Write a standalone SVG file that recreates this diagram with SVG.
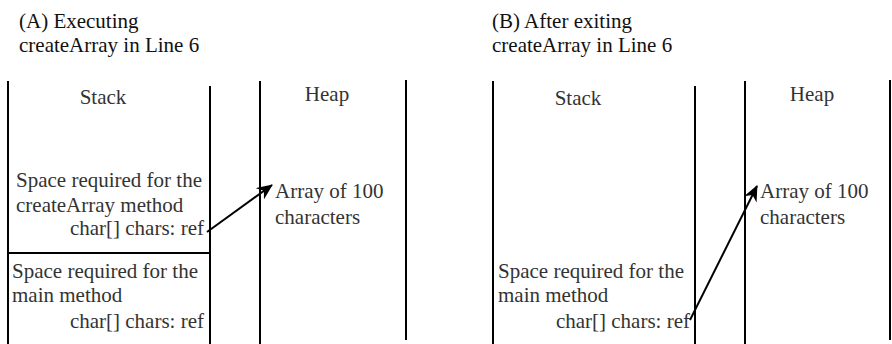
<svg xmlns="http://www.w3.org/2000/svg" width="892" height="344" viewBox="0 0 892 344">
<style>
text{font-family:"Liberation Serif","Times New Roman",serif;font-size:21px;fill:#333}
.t{fill:#111}
.r{text-anchor:end}
.ln{stroke:#000;stroke-width:2;fill:none}
</style>
<defs>
<marker id="ah" viewBox="0 0 16 14" refX="15" refY="7" markerWidth="16" markerHeight="14" markerUnits="userSpaceOnUse" orient="auto">
<path d="M0,0 L16,7 L0,14 L5,7 Z" fill="#000"/>
</marker>
</defs>
<rect width="892" height="344" fill="#fff"/>
<g id="titleA"><text class="t" x="19" y="28">(A) Executing</text><text class="t" x="19" y="52">createArray in Line 6</text></g>
<g id="titleB"><text class="t" x="492" y="28">(B) After exiting</text><text class="t" x="492" y="52">createArray in Line 6</text></g>
<g id="stackA">
<line class="ln" x1="8" y1="81" x2="8" y2="344"/>
<line class="ln" x1="210" y1="86" x2="210" y2="344"/>
<text x="103" y="104" text-anchor="middle">Stack</text>
</g>
<g id="frameCreateA">
<text x="16" y="187">Space required for the</text>
<text x="16" y="212">createArray method</text>
<text class="r" x="204" y="235">char[] chars: ref</text>
<line class="ln" x1="8" y1="253" x2="210" y2="253"/>
</g>
<g id="frameMainA">
<text x="12" y="278">Space required for the</text>
<text x="12" y="302">main method</text>
<text class="r" x="204" y="328">char[] chars: ref</text>
</g>
<g id="heapA">
<line class="ln" x1="260" y1="81" x2="260" y2="344"/>
<line class="ln" x1="406" y1="80" x2="406" y2="340"/>
<text x="327" y="101" text-anchor="middle">Heap</text>
</g>
<g id="arrayA"><text x="275" y="198">Array of 100</text><text x="275" y="224">characters</text></g>
<g id="stackB">
<line class="ln" x1="493" y1="81" x2="493" y2="344"/>
<line class="ln" x1="695" y1="86" x2="695" y2="344"/>
<text x="578" y="105" text-anchor="middle">Stack</text>
</g>
<g id="frameMainB">
<text x="498" y="278">Space required for the</text>
<text x="498" y="302">main method</text>
<text class="r" x="690" y="328">char[] chars: ref</text>
</g>
<g id="heapB">
<line class="ln" x1="745" y1="81" x2="745" y2="344"/>
<line class="ln" x1="890" y1="80" x2="890" y2="340"/>
<text x="812" y="101" text-anchor="middle">Heap</text>
</g>
<g id="arrayB"><text x="760" y="198">Array of 100</text><text x="760" y="224">characters</text></g>
<g id="connectors">
<line class="ln" x1="207" y1="232" x2="272" y2="185" marker-end="url(#ah)"/>
<line class="ln" x1="690" y1="320" x2="757" y2="186" marker-end="url(#ah)"/>
</g>
</svg>
